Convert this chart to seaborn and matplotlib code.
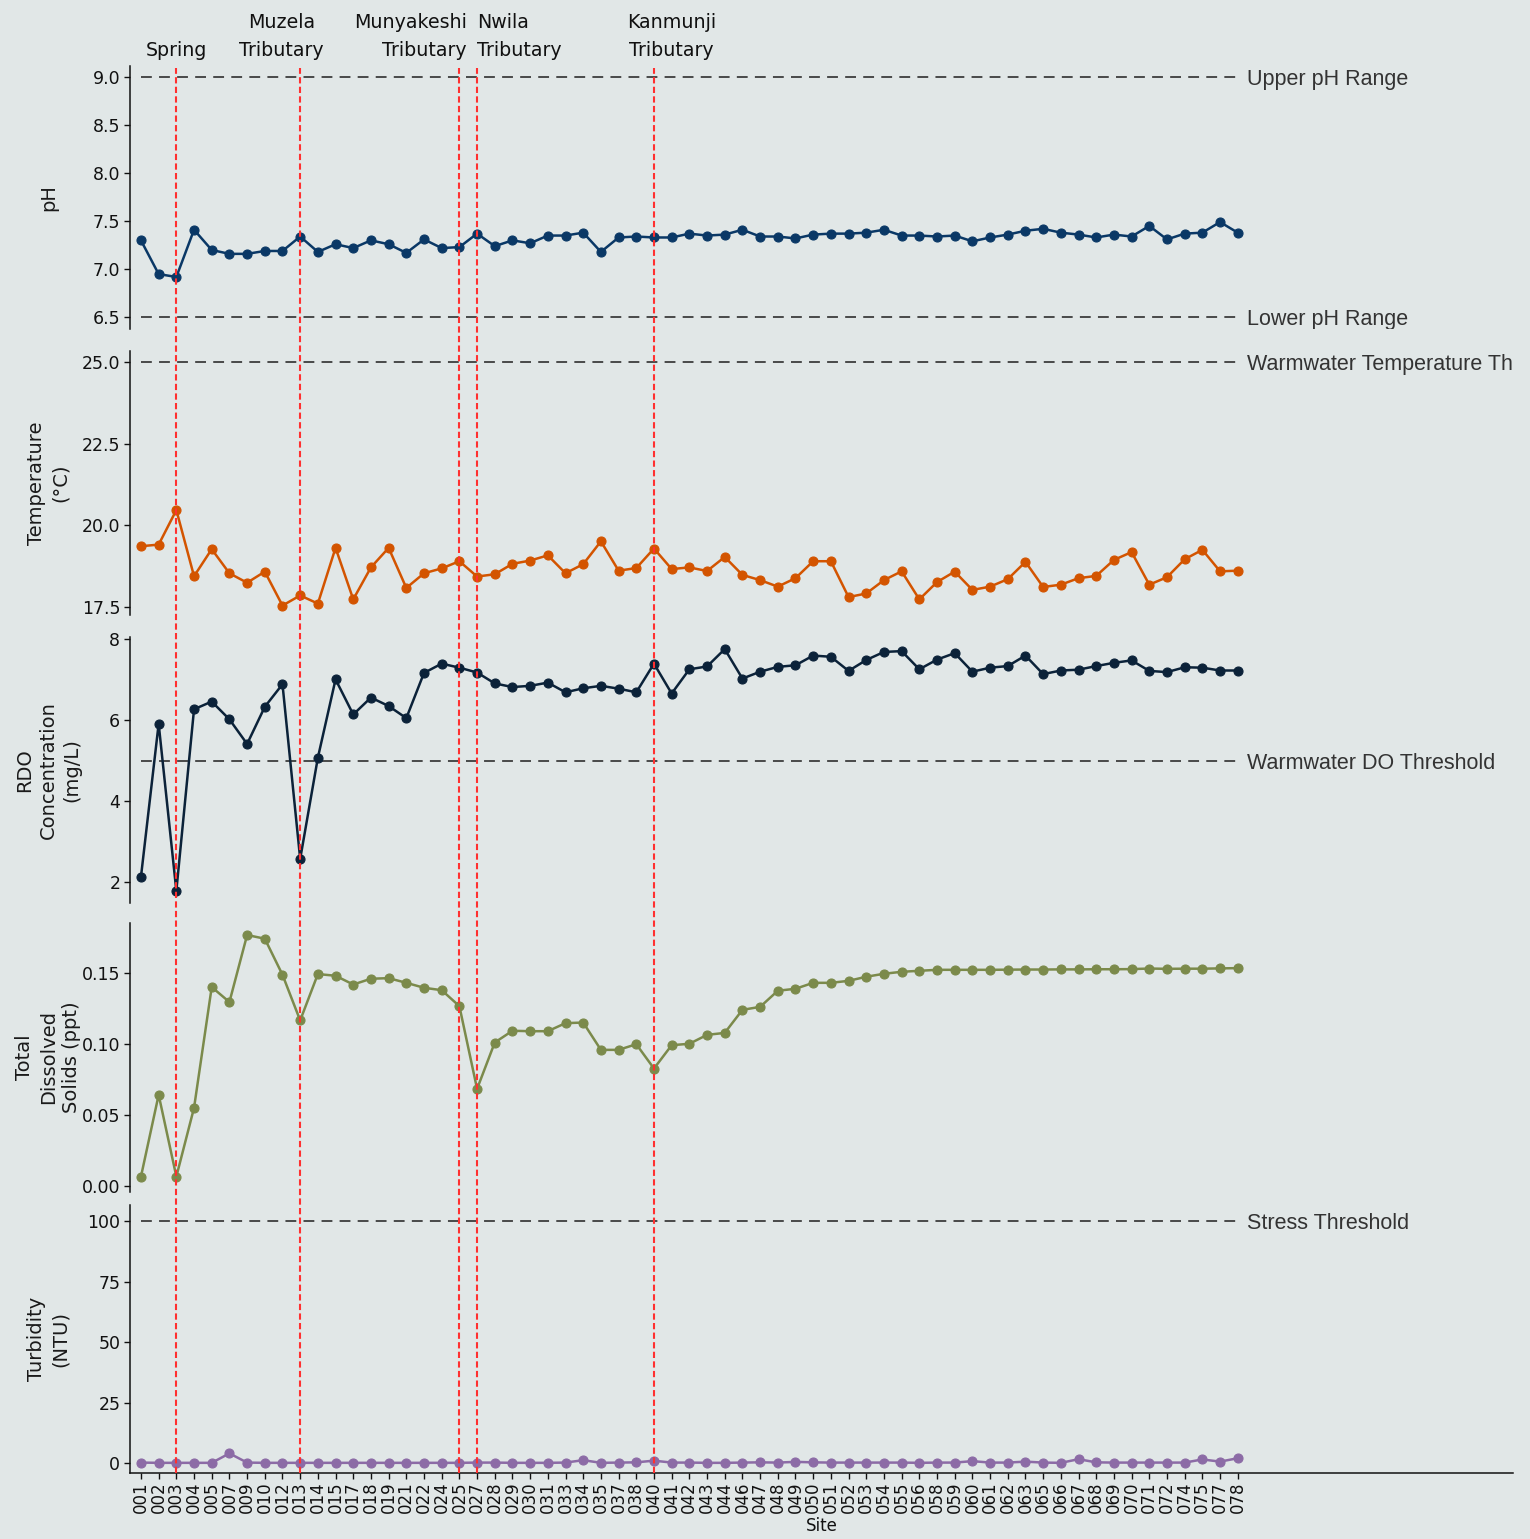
import matplotlib
matplotlib.use("Agg")
import matplotlib.pyplot as plt
import matplotlib.transforms as mtransforms
from matplotlib.lines import Line2D
import seaborn as sns
import pandas as pd

# ---------------- data ----------------
sites = ["001","002","003","004","005","007","009","010","012","013","014","015","017","018",
         "019","021","022","024","025","027","028","029","030","031","033","034","035","037",
         "038","040","041","042","043","044","046","047","048","049","050","051","052","053",
         "054","055","056","058","059","060","061","062","063","065","066","067","068","069",
         "070","071","072","074","075","077","078"]

ph = [7.30,6.95,6.92,7.41,7.20,7.16,7.16,7.19,7.19,7.34,
      7.18,7.26,7.22,7.30,7.26,7.17,7.31,7.22,7.23,7.37,
      7.24,7.30,7.27,7.35,7.35,7.38,7.18,7.33,7.34,7.33,
      7.33,7.37,7.35,7.36,7.41,7.34,7.34,7.32,7.36,7.37,
      7.37,7.38,7.41,7.35,7.35,7.34,7.35,7.29,7.33,7.36,
      7.40,7.42,7.38,7.36,7.33,7.36,7.34,7.45,7.31,7.37,
      7.38,7.49,7.38]

temperature = [19.36,19.41,20.47,18.44,19.27,18.53,18.24,18.58,17.54,17.85,
               17.60,19.31,17.73,18.71,19.31,18.08,18.53,18.68,18.90,18.43,
               18.50,18.82,18.92,19.08,18.53,18.81,19.51,18.61,18.69,19.29,
               18.66,18.71,18.60,19.03,18.48,18.32,18.12,18.38,18.90,18.90,
               17.80,17.91,18.32,18.59,17.73,18.26,18.58,18.02,18.12,18.35,
               18.88,18.11,18.18,18.38,18.45,18.94,19.18,18.18,18.41,18.96,
               19.25,18.59,18.61]

rdo = [2.12,5.91,1.77,6.27,6.46,6.02,5.41,6.33,6.89,2.56,
       5.07,7.01,6.14,6.56,6.35,6.05,7.17,7.40,7.30,7.18,
       6.91,6.82,6.85,6.93,6.69,6.79,6.85,6.78,6.69,7.40,
       6.66,7.26,7.33,7.76,7.03,7.20,7.32,7.36,7.60,7.57,
       7.22,7.49,7.69,7.71,7.26,7.50,7.66,7.20,7.30,7.34,
       7.60,7.14,7.23,7.25,7.34,7.42,7.48,7.22,7.19,7.31,
       7.30,7.23,7.23]

tds = [0.0064,0.0642,0.0064,0.0550,0.1404,0.1298,0.1772,0.1746,0.1491,0.1168,
       0.1496,0.1484,0.1422,0.1463,0.1467,0.1434,0.1399,0.1382,0.1269,0.0684,
       0.1012,0.1095,0.1092,0.1092,0.1149,0.1153,0.0960,0.0960,0.1000,0.0828,
       0.0993,0.1003,0.1066,0.1080,0.1243,0.1264,0.1378,0.1392,0.1434,0.1434,
       0.1448,0.1477,0.1498,0.1512,0.1519,0.1526,0.1526,0.1526,0.1526,0.1527,
       0.1528,0.1528,0.1529,0.1529,0.1530,0.1530,0.1531,0.1535,0.1533,0.1534,
       0.1534,0.1536,0.1538]

turbidity = [0.2,0.1,0.1,0.1,0.1,4.0,0.2,0.1,0.1,0.1,
             0.1,0.1,0.1,0.1,0.1,0.1,0.1,0.1,0.1,0.2,
             0.2,0.1,0.1,0.1,0.2,1.2,0.1,0.2,0.3,1.0,
             0.2,0.2,0.1,0.1,0.2,0.3,0.2,0.5,0.3,0.2,
             0.2,0.2,0.2,0.2,0.1,0.2,0.2,0.8,0.2,0.2,
             0.6,0.2,0.1,1.6,0.3,0.2,0.2,0.2,0.2,0.2,
             1.5,0.6,2.0]

marker_sites = ["003", "013", "025", "027", "040"]
marker_labels = ["Spring", "Muzela\nTributary", "Munyakeshi\nTributary",
                 "Nwila\nTributary", "Kanmunji\nTributary"]

ph_ticks = [6.5, 7.0, 7.5, 8.0, 8.5, 9.0]
temp_ticks = [17.5, 20.0, 22.5, 25.0]
rdo_ticks = [2, 4, 6, 8]
tds_ticks = [0.00, 0.05, 0.10, 0.15]
turb_ticks = [0, 25, 50, 75, 100]

# ---------------- styling ----------------
sns.set_theme(style="ticks")
plt.rcParams["font.family"] = ["DejaVu Sans"]
BG = "#e1e7e7"
W, H = 1530, 1539

df = pd.DataFrame({"site": sites, "pos": range(len(sites)), "ph": ph, "temp": temperature,
                   "rdo": rdo, "tds": tds, "turb": turbidity})

fig = plt.figure(figsize=(W / 100, H / 100), dpi=100, facecolor=BG)

def box(top, bottom):
    return [130 / W, 1 - bottom / H, (1513 - 130) / W, (bottom - top) / H]

panels = [
    dict(col="ph", color="#0a3866", ylim=(6.38, 9.11), ticks=ph_ticks, fmt="{:.1f}",
         label="pH", box=box(66, 329),
         hl=[(9.0, "Upper pH Range"), (6.5, "Lower pH Range")]),
    dict(col="temp", color="#d35400", ylim=(17.25, 25.35), ticks=temp_ticks, fmt="{:.1f}",
         label="Temperature\n(°C)", box=box(351, 615),
         hl=[(25.0, "Warmwater Temperature Threshold")]),
    dict(col="rdo", color="#0b2239", ylim=(1.47, 8.06), ticks=rdo_ticks, fmt="{:.0f}",
         label="RDO\nConcentration\n(mg/L)", box=box(637, 903),
         hl=[(5.0, "Warmwater DO Threshold")]),
    dict(col="tds", color="#7b8a4b", ylim=(-0.0045, 0.1857), ticks=tds_ticks, fmt="{:.2f}",
         label="Total\nDissolved\nSolids (ppt)", box=box(923, 1192), hl=[]),
    dict(col="turb", color="#8c6ba6", ylim=(-4.1, 106.6), ticks=turb_ticks, fmt="{:.0f}",
         label="Turbidity\n(NTU)", box=box(1205, 1473),
         hl=[(100, "Stress Threshold")]),
]

xmin, xmax = -0.62, 77.56
axes = []
n = len(sites)
for i, p in enumerate(panels):
    ax = fig.add_axes(p["box"])
    ax.set_facecolor(BG)
    sns.lineplot(data=df, x="pos", y=p["col"], ax=ax, color=p["color"], marker="o",
                 markersize=6.5, markeredgecolor=p["color"], markeredgewidth=0.8,
                 linewidth=1.8, zorder=3)
    ax.set_xlim(xmin, xmax)
    ax.set_ylim(*p["ylim"])
    ax.set_yticks(p["ticks"])
    ax.set_yticklabels([p["fmt"].format(t) for t in p["ticks"]])
    for y, txt in p["hl"]:
        ax.hlines(y, df["pos"].iloc[0], df["pos"].iloc[-1], colors="#3d3d3d",
                  linestyles=(0, (6, 4)), linewidth=1.3, zorder=2)
        ax.text(df["pos"].iloc[-1] + 0.55, y, txt, va="center_baseline", ha="left",
                fontsize=15.5, family="Liberation Sans", color="#333333", clip_on=True)
    ax.set_ylabel(p["label"], fontsize=14, color="#1a1a1a", linespacing=1.3)
    ax.yaxis.label.set_va("center")
    ax.yaxis.set_label_coords(-0.059, 0.5)
    ax.tick_params(axis="y", labelsize=12.5, length=4, width=1, pad=3, colors="#111111")
    for s in ["top", "right"]:
        ax.spines[s].set_visible(False)
    ax.spines["left"].set_color("#111111")
    ax.spines["left"].set_linewidth(1.1)
    if i < len(panels) - 1:
        ax.spines["bottom"].set_visible(False)
        ax.tick_params(axis="x", bottom=False, labelbottom=False)
        ax.set_xlabel("")
    else:
        ax.spines["bottom"].set_color("#111111")
        ax.spines["bottom"].set_linewidth(1.1)
        ax.set_xticks(df["pos"])
        ax.set_xticklabels(sites, rotation=90)
        ax.tick_params(axis="x", labelsize=12, length=4, width=1, pad=2, colors="#111111")
        ax.set_xlabel("Site", fontsize=12, labelpad=3, color="#111111")
    axes.append(ax)

# red reference lines spanning all panels
bottom_ax = axes[-1]
trans = mtransforms.blended_transform_factory(bottom_ax.transData, fig.transFigure)
pos_of = dict(zip(sites, range(n)))
for s in marker_sites:
    xv = pos_of[s]
    fig.add_artist(Line2D([xv, xv], [1 - 1473 / H, 1 - 68 / H], transform=trans,
                          color="#ff3030", linewidth=1.5, linestyle=(0, (3, 1.6)),
                          zorder=5))

# annotation labels above the top panel
offsets = [0.0, -1.07, 0.43, 0.0, 0.99]
aligns = ["center", "center", "right", "left", "center"]
for s, lab, off, ha in zip(marker_sites, marker_labels, offsets, aligns):
    fig.text(pos_of[s] + off, 1 - 56 / H, lab, transform=trans, ha=ha, va="baseline",
             multialignment=ha, fontsize=13.7, linespacing=1.6, color="#111111")

fig.savefig("out.png", dpi=100, facecolor=BG)
